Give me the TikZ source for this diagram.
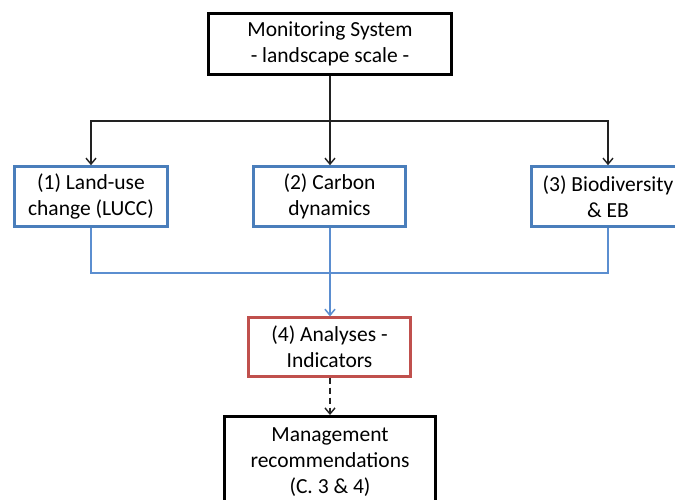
\documentclass[tikz,border=0pt]{standalone}
\usepackage{fontspec}
\setmainfont{Carlito}
\usetikzlibrary{arrows.meta}
\definecolor{boxblue}{HTML}{4A7EBB}
\definecolor{lineblue}{HTML}{5B8ED0}
\definecolor{boxred}{HTML}{C0504D}
\definecolor{lineblack}{HTML}{222222}
\tikzset{
  txt/.style={font=\fontsize{21.5}{26}\selectfont, align=center, inner sep=0pt, text=black},
  blackbox/.style={txt, draw=black, line width=3pt, fill=white},
  bluebox/.style={txt, draw=boxblue, line width=2.6pt, fill=white},
  redbox/.style={txt, draw=boxred, line width=2.3pt, fill=white},
  blk/.style={draw=lineblack, line width=1.5pt},
  blu/.style={draw=lineblue, line width=1.6pt},
  tip/.style={-{Straight Barb[length=6pt,width=10pt,line width=1.4pt]}},
}
\begin{document}
\begin{tikzpicture}[x=1pt,y=-1pt]
\useasboundingbox (0,0) rectangle (675,499);
\clip (0,0) rectangle (675,499);
\fill[white] (0,0) rectangle (675,499);
% nodes
\node[blackbox, minimum width=243pt, minimum height=61pt] (top) at (330,44) {Monitoring System\\- landscape scale -};
\node[bluebox, minimum width=153pt, minimum height=60pt] (b1) at (91,196.5) {(1) Land-use\\change (LUCC)};
\node[bluebox, minimum width=152pt, minimum height=60pt] (b2) at (329.5,196.5) {(2) Carbon\\dynamics};
\node[bluebox, minimum width=153pt, minimum height=60pt] (b3) at (608,196.5) {(3) Biodiversity\\\& EB};
\node[redbox, minimum width=162pt, minimum height=59pt] (b4) at (329.5,347) {(4) Analyses -\\Indicators};
\node[blackbox, minimum width=211pt, minimum height=91pt] (b5) at (330,462) {Management\\recommendations\\(C. 3 \& 4)};
\coordinate (j) at (330,121);
\coordinate (k) at (330,273);
% black connectors
\draw[blk, line width=2pt] (top.south -| j) -- (j);
\draw[blk, line width=2pt, tip] (j) -- (b2.north -| j);
\draw[blk, tip] (j) -| (b1.north);
\draw[blk, tip] (j) -| (b3.north);
% blue connectors
\draw[blu] (b1.south) |- (k);
\draw[blu] (b3.south) |- (k);
\draw[blu, line width=2pt] (b2.south -| k) -- (k);
\draw[blu, line width=2pt, -{Straight Barb[length=6pt,width=10pt,line width=1.5pt]}] (k) -- (b4.north -| k);
% dashed
\draw[blk, dashed, dash pattern=on 6pt off 4pt, line width=2pt, tip] (b4.south -| k) -- (b5.north -| k);
\end{tikzpicture}
\end{document}
